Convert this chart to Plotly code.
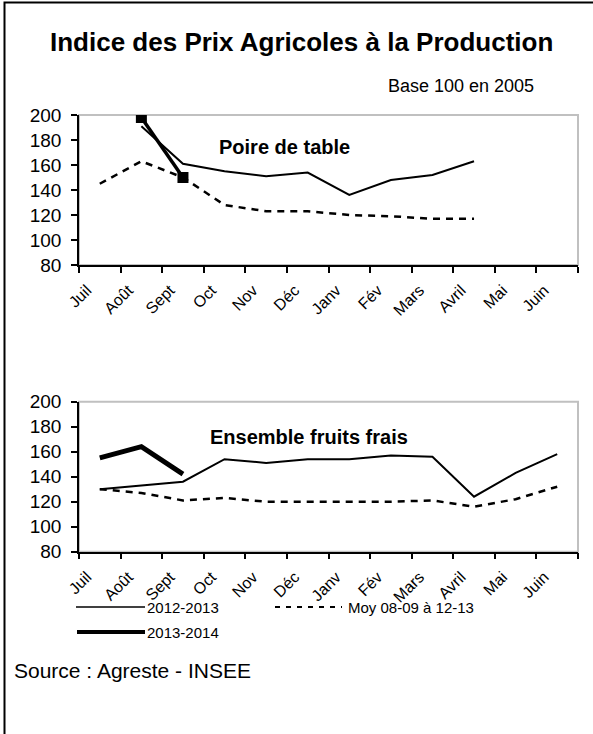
import plotly.graph_objects as go

W, H = 593, 734

months = ["Juil", "Août", "Sept", "Oct", "Nov", "Déc", "Janv", "Fév", "Mars", "Avril", "Mai", "Juin"]

poire_2012_2013 = [None, 191, 161, 155, 151, 154, 136, 148, 152, 163, None, None]
poire_2013_2014 = [None, 198, 150, None, None, None, None, None, None, None, None, None]
poire_moy = [145, 163, 150, 128, 123, 123, 120, 119, 117, 117, None, None]

fruits_2012_2013 = [130, 133, 136, 154, 151, 154, 154, 157, 156, 124, 143, 158]
fruits_2013_2014 = [155, 164, 142, None, None, None, None, None, None, None, None, None]
fruits_moy = [130, 127, 121, 123, 120, 120, 120, 120, 121, 116, 122, 132]

y_ticks = [80, 100, 120, 140, 160, 180, 200]

FONT = "Arial, Liberation Sans, sans-serif"
DASH = "7px,6px"


def px(x):
    return x / W


def py(y):
    return 1 - y / H


fig = go.Figure()

# Top panel: Poire de table
fig.add_trace(go.Scatter(x=months, y=poire_moy, xaxis="x", yaxis="y", mode="lines",
                         line=dict(color="black", width=2.5, dash=DASH), showlegend=False))
fig.add_trace(go.Scatter(x=months, y=poire_2012_2013, xaxis="x", yaxis="y", mode="lines",
                         line=dict(color="black", width=2), showlegend=False))
fig.add_trace(go.Scatter(x=months, y=poire_2013_2014, xaxis="x", yaxis="y", mode="lines+markers",
                         line=dict(color="black", width=3.5),
                         marker=dict(symbol="square", size=11, color="black"), showlegend=False))

# Bottom panel: Ensemble fruits frais
fig.add_trace(go.Scatter(x=months, y=fruits_moy, xaxis="x2", yaxis="y2", mode="lines",
                         line=dict(color="black", width=2.5, dash=DASH), showlegend=False))
fig.add_trace(go.Scatter(x=months, y=fruits_2012_2013, xaxis="x2", yaxis="y2", mode="lines",
                         line=dict(color="black", width=2), showlegend=False))
fig.add_trace(go.Scatter(x=months, y=fruits_2013_2014, xaxis="x2", yaxis="y2", mode="lines",
                         line=dict(color="black", width=5), showlegend=False))

xdom = [px(79), px(578)]
xcommon = dict(type="category", categoryorder="array", categoryarray=months,
               range=[-0.5, len(months) - 0.5], showline=True, linecolor="black", linewidth=1.5,
               ticks="outside", tickson="boundaries", ticklen=6, tickcolor="black", tickwidth=1.5,
               tickangle=-45, tickfont=dict(family=FONT, size=16, color="black"),
               ticklabelstandoff=8, ticklabelshift=-13,
               showgrid=False, zeroline=False, fixedrange=True, automargin=False)
ycommon = dict(range=[80, 200], tickvals=y_ticks, showline=True, linecolor="black", linewidth=1.5,
               ticks="outside", ticklen=6, tickcolor="black", tickwidth=1.5,
               tickfont=dict(family=FONT, size=19, color="black"), ticklabelstandoff=6,
               showgrid=False, zeroline=False, fixedrange=True, automargin=False)

fig.update_layout(
    width=W, height=H,
    margin=dict(l=0, r=0, t=0, b=0, autoexpand=False),
    paper_bgcolor="white", plot_bgcolor="white",
    showlegend=False,
    xaxis=dict(domain=xdom, anchor="y", **xcommon),
    yaxis=dict(domain=[py(265), py(115)], anchor="x", **ycommon),
    xaxis2=dict(domain=xdom, anchor="y2", **xcommon),
    yaxis2=dict(domain=[py(551.7), py(401.7)], anchor="x2", **ycommon),
)

shapes = []
# gray plot-area borders (top/right)
for xr, yr in (("x domain", "y domain"), ("x2 domain", "y2 domain")):
    shapes.append(dict(type="rect", xref=xr, yref=yr, x0=0, x1=1, y0=0, y1=1,
                       line=dict(color="#c0c0c0", width=2), layer="below"))
# outer frame (top and left edges)
shapes.append(dict(type="path", xref="paper", yref="paper",
                   path=f"M {px(700)},{py(2.5)} L {px(4.5)},{py(2.5)} L {px(4.5)},{py(800)}",
                   line=dict(color="black", width=2)))
# legend swatches
shapes.append(dict(type="line", xref="paper", yref="paper", x0=px(76), x1=px(145), y0=py(607), y1=py(607),
                   line=dict(color="black", width=1.5)))
shapes.append(dict(type="line", xref="paper", yref="paper", x0=px(275), x1=px(342), y0=py(607), y1=py(607),
                   line=dict(color="black", width=2, dash="5px,6px")))
shapes.append(dict(type="line", xref="paper", yref="paper", x0=px(77), x1=px(145), y0=py(632), y1=py(632),
                   line=dict(color="black", width=4)))
fig.update_layout(shapes=shapes)

ann = []
ann.append(dict(text="<b>Indice des Prix Agricoles à la Production</b>", x=px(301), y=py(42),
                font=dict(family=FONT, size=26, color="black")))
ann.append(dict(text="Base 100 en 2005", x=px(461), y=py(86),
                font=dict(family=FONT, size=18, color="black")))
ann.append(dict(text="<b>Poire de table</b>", x=px(284), y=py(147),
                font=dict(family=FONT, size=20, color="black")))
ann.append(dict(text="<b>Ensemble fruits frais</b>", x=px(309), y=py(437),
                font=dict(family=FONT, size=20, color="black")))
ann.append(dict(text="2012-2013", x=px(145), y=py(607), xanchor="left",
                font=dict(family=FONT, size=15, color="black")))
ann.append(dict(text="Moy 08-09 à 12-13", x=px(346), y=py(607), xanchor="left",
                font=dict(family=FONT, size=15, color="black")))
ann.append(dict(text="2013-2014", x=px(145), y=py(632), xanchor="left",
                font=dict(family=FONT, size=15, color="black")))
ann.append(dict(text="Source : Agreste - INSEE", x=px(12), y=py(670), xanchor="left",
                font=dict(family=FONT, size=21, color="black")))
for a in ann:
    a.update(xref="paper", yref="paper", showarrow=False, yanchor="middle")
    a.setdefault("xanchor", "center")
fig.update_layout(annotations=ann)

fig.write_html(
    "out.html",
    config={"displayModeBar": False},
    post_script=(
        "document.documentElement.style.margin='0';"
        "document.body.style.margin='0';document.body.style.padding='0';"
        "document.body.style.overflow='hidden';"
        "var d=document.getElementById('{plot_id}');"
        "d.style.position='fixed';d.style.top='0px';d.style.left='0px';"
    ),
)
